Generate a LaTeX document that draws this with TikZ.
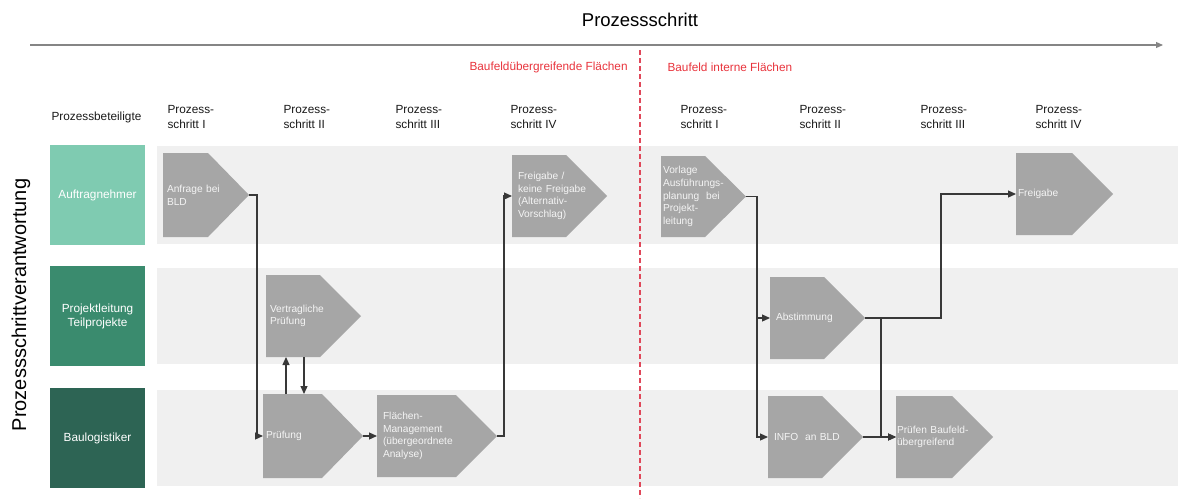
\documentclass[tikz,border=0pt]{standalone}
\usepackage{fontspec}
\setmainfont{Liberation Sans}
\usetikzlibrary{arrows.meta,calc}
\definecolor{lanebg}{HTML}{F0F0F0}
\definecolor{stepgray}{HTML}{A6A6A6}
\definecolor{conncol}{HTML}{383838}
\definecolor{redtxt}{HTML}{E8333C}
\definecolor{redline}{HTML}{E0485A}
\definecolor{mint}{HTML}{7FCBB1}
\definecolor{midgreen}{HTML}{3A8B6E}
\definecolor{darkgreen}{HTML}{2D6454}
\definecolor{axisgray}{HTML}{858585}
\definecolor{steptext}{HTML}{F4F4F4}
\begin{document}
\begin{tikzpicture}[x=1pt,y=-1pt,
  pent/.style={rectangle, anchor=north west, outer sep=0pt, inner ysep=2pt,
    align=left, text=steptext, font=\fontsize{10.2}{12.7}\selectfont,
    path picture={\fill[stepgray]
      (path picture bounding box.north west)
      -- ([xshift=-41pt]path picture bounding box.north east)
      -- (path picture bounding box.east)
      -- ([xshift=-41pt]path picture bounding box.south east)
      -- (path picture bounding box.south west) -- cycle;}},
  lanebox/.style={rectangle, anchor=north west, minimum width=95pt, minimum height=100pt,
    text=white, align=center, font=\fontsize{11.8}{14}\selectfont, outer sep=0pt},
  hdr/.style={anchor=west, align=left, font=\fontsize{11.8}{15}\selectfont, text=black!90},
  redlabel/.style={anchor=west, text=redtxt, font=\fontsize{11.8}{14}\selectfont},
  conn/.style={draw=conncol, line width=1.2pt, -{Triangle[length=8pt,width=7pt]}},
]
\useasboundingbox (0,0) rectangle (1178,498);

% title and axis
\node[font=\fontsize{18.5}{22}\selectfont] (title) at (640,20) {Prozessschritt};
\coordinate (axs) at (30,45);
\coordinate (axe) at (1163,45);
\draw[draw=axisgray, line width=1.1pt, -{Triangle[length=7pt,width=6pt]}] (axs) -- (axe);

% lanes
\fill[lanebg] (157,146) rectangle (1178,244);
\fill[lanebg] (157,268) rectangle (1178,364);
\fill[lanebg] (157,390) rectangle (1178,486);

% red divider
\coordinate (d1) at (640,50);
\coordinate (d2) at (640,498);
\draw[draw=redline, line width=1.2pt, dash pattern=on 5pt off 3pt] (d1) -- (d2);
\node[redlabel] (rl) at (466,67) {Baufeldübergreifende Flächen};
\node[redlabel] (rr) at (664,67) {Baufeld interne Flächen};

% headers
\node[hdr] (hp) at (48,117) {Prozessbeteiligte};
\node[hdr] (h1) at (164,117) {Prozess-\\schritt I};
\node[hdr] (h2) at (280,117) {Prozess-\\schritt II};
\node[hdr] (h3) at (392,117) {Prozess-\\schritt III};
\node[hdr] (h4) at (507,117) {Prozess-\\schritt IV};
\node[hdr] (h5) at (677,117) {Prozess-\\schritt I};
\node[hdr] (h6) at (796,117) {Prozess-\\schritt II};
\node[hdr] (h7) at (917,117) {Prozess-\\schritt III};
\node[hdr] (h8) at (1032,117) {Prozess-\\schritt IV};

% vertical label
\node[rotate=90, font=\fontsize{20}{23}\selectfont] (vlab) at (21,305) {Prozessschrittverantwortung};

% lane boxes
\node[lanebox, fill=mint] (auf) at (50,145) {Auftragnehmer};
\node[lanebox, fill=midgreen] (proj) at (50,266) {Projektleitung\\Teilprojekte};
\node[lanebox, fill=darkgreen] (baul) at (50,388) {Baulogistiker};

% steps
\node[pent, minimum width=86pt, minimum height=84pt, inner xsep=4pt, text width=78pt] (anf) at (163,153) {Anfrage bei\\BLD};
\node[pent, minimum width=95pt, minimum height=82pt, inner xsep=4pt, text width=87pt] (vert) at (266,275) {Vertragliche\\Prüfung};
\node[pent, minimum width=100pt, minimum height=84pt, inner xsep=3pt, text width=94pt] (pruef) at (263,394) {Prüfung};
\node[pent, minimum width=120pt, minimum height=82pt, inner xsep=6pt, text width=108pt] (flaech) at (377,395) {Flächen-\\Management\\(übergeordnete\\Analyse)};
\node[pent, minimum width=95pt, minimum height=82pt, inner xsep=6pt, text width=83pt] (freig) at (512,155) {Freigabe /\\keine Freigabe\\(Alternativ-\\Vorschlag)};
\node[pent, minimum width=85pt, minimum height=81pt, inner xsep=2pt, text width=81pt] (vorl) at (661,156) {Vorlage\\Ausführungs-\\planung\ \ bei\\Projekt-\\leitung};
\node[pent, minimum width=95pt, minimum height=82pt, inner xsep=6pt, text width=83pt] (abst) at (770,277) {Abstimmung};
\node[pent, minimum width=95pt, minimum height=82pt, inner xsep=6pt, text width=83pt] (info) at (768,396) {INFO\ \ an BLD};
\node[pent, minimum width=97pt, minimum height=82pt, inner xsep=1pt, text width=95pt] (pbf) at (896,396) {Prüfen Baufeld-\\übergreifend};
\node[pent, minimum width=97pt, minimum height=82pt, inner xsep=2pt, text width=93pt] (freig2) at (1016,153) {\raisebox{-7pt}{Freigabe}};

% connectors
\draw[conn] (anf.east) -- ++(8,0) |- (pruef.west);
\coordinate (b1) at ([xshift=23pt]pruef.north west);
\draw[conn] (b1) -- (b1 |- vert.south);
\coordinate (c1) at ([xshift=38pt]vert.south west);
\draw[conn] (c1) -- (c1 |- pruef.north);
\draw[conn] (pruef.east) -- (flaech.west);
\draw[conn] (flaech.east) -- ++(7,0) |- (freig.west);
\draw[conn] (vorl.east) -- ++(11,0) coordinate (f1) |- (abst.west);
\draw[conn] (f1) |- (info.west);
\draw[conn] (abst.east) -- ++(16,0) coordinate (g1) |- (pbf.west);
\draw[conn] (abst.east) -- ++(76,0) |- (freig2.west);
\draw[conn] (info.east) -- (pbf.west);
\end{tikzpicture}
\end{document}
